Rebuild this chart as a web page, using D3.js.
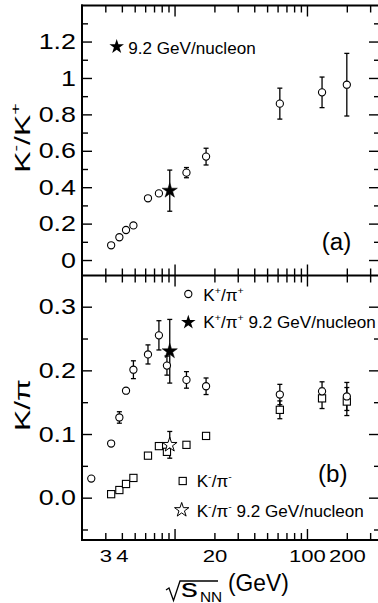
<!DOCTYPE html>
<html><head><meta charset="utf-8">
<script src="https://cdn.jsdelivr.net/npm/d3@7"></script>
<style>html,body{margin:0;padding:0;background:#fff;} svg{display:block;}</style>
</head><body><svg id="c" width="378" height="603"></svg>
<script>
// ---------- data ----------
// panel (a): K-/K+
const energyA = [3.32, 3.83, 4.3, 4.89, 6.3, 7.62, 12.3, 17.3, 62.4, 130, 200];
const kmkpVal = [0.081, 0.125, 0.165, 0.19, 0.339, 0.366, 0.48, 0.568, 0.859, 0.921, 0.963];
const kmkpErr = [0, 0, 0, 0, 0, 0, 0.028, 0.046, 0.085, 0.084, 0.172];
const starAEnergy = [9.2];
const starAVal = [0.381];
const starAErr = [0.113];
// panel (b): K+/pi+
const energyKpPi = [2.35, 3.32, 3.83, 4.3, 4.89, 6.3, 7.62, 8.76, 12.3, 17.3, 62.4, 130, 200];
const kpPiVal = [0.030, 0.085, 0.126, 0.168, 0.201, 0.225, 0.255, 0.2075, 0.185, 0.175, 0.162, 0.167, 0.159];
const kpPiErr = [0, 0, 0.009, 0, 0.014, 0.015, 0.023, 0.015, 0.013, 0.013, 0.016, 0.015, 0.022];
// panel (b): K-/pi-
const energyKmPi = [3.32, 3.83, 4.3, 4.89, 6.3, 7.62, 8.76, 12.3, 17.3, 62.4, 130, 200];
const kmPiVal = [0.0055, 0.012, 0.0215, 0.031, 0.066, 0.081, 0.072, 0.083, 0.097, 0.138, 0.156, 0.151];
const kmPiErr = [0, 0, 0, 0, 0, 0, 0, 0, 0, 0.014, 0.016, 0.022];
const starBEnergy = [9.2];
const starKpVal = [0.23];
const starKpErr = [0.05];
const starKmVal = [0.083];
const starKmErr = [0.021];
// ticks
const yTicksA = [0, 0.2, 0.4, 0.6, 0.8, 1, 1.2];
const yTickLabelsA = ["0", "0.2", "0.4", "0.6", "0.8", "1", "1.2"];
const yMinorA = [0.1, 0.3, 0.5, 0.7, 0.9, 1.1, 1.3];
const yTicksB = [0, 0.1, 0.2, 0.3];
const yTickLabelsB = ["0.0", "0.1", "0.2", "0.3"];
const yMinorB = [-0.05, 0.05, 0.15, 0.25];
const xMajor = [10, 100];
const xMinor = [3, 4, 5, 6, 7, 8, 9, 20, 30, 40, 50, 60, 70, 80, 90, 200, 300];
const xLabelVals = [3, 4, 20, 100, 200];
const xLabels = ["3", "4", "20", "100", "200"];

// ---------- layout ----------
const L = 82, R = 379, TOP = 5.5, MID = 275.5, BOT = 540;
const FONT = "'Liberation Sans', Arial, Helvetica, sans-serif";
const svg = d3.select("#c").attr("font-family", FONT);
svg.append("rect").attr("width", 378).attr("height", 603).attr("fill", "#fff");

const x = d3.scaleLog().domain([2, 350]).range([L, R]);
const yA = d3.scaleLinear().domain([-0.085, 1.398]).range([MID, TOP]);
const yB = d3.scaleLinear().domain([-0.0665, 0.349]).range([BOT, MID]);

function styleAxis(g) {
  g.select(".domain").remove();
  g.selectAll(".tick line").attr("stroke", "#000").attr("stroke-width", 1.4);
}
function ticksOnly(axis) { return axis.tickFormat(() => ""); }

// y axes
function yAxes(y, major, labels, minor) {
  svg.append("g").attr("transform", `translate(${L},0)`)
    .call(ticksOnly(d3.axisLeft(y).tickValues(minor).tickSize(-6))).call(styleAxis);
  svg.append("g").attr("transform", `translate(${L},0)`)
    .call(ticksOnly(d3.axisLeft(y).tickValues(major).tickSize(-10))).call(styleAxis);
  svg.append("g").attr("transform", `translate(${R},0)`)
    .call(ticksOnly(d3.axisRight(y).tickValues(minor).tickSize(-5))).call(styleAxis);
  svg.append("g").attr("transform", `translate(${R},0)`)
    .call(ticksOnly(d3.axisRight(y).tickValues(major).tickSize(-10))).call(styleAxis);
  const lab = svg.append("g").attr("transform", `translate(${L},0)`)
    .call(d3.axisLeft(y).tickValues(major).tickSize(0).tickPadding(0)
      .tickFormat((d, i) => labels[i]));
  lab.select(".domain").remove();
  lab.selectAll(".tick line").remove();
  const sx = 1.22;
  lab.selectAll("text").attr("font-size", 22).attr("font-family", FONT).attr("fill", "#000")
    .attr("x", -6 / sx).attr("transform", `scale(${sx},1)`);
}
yAxes(yA, yTicksA, yTickLabelsA, yMinorA);
yAxes(yB, yTicksB, yTickLabelsB, yMinorB);

// x axes (top of a, bottom of a, top of b, bottom of b)
function xTicks(yPos, dir) {
  const mk = dir > 0 ? d3.axisBottom : d3.axisTop;
  svg.append("g").attr("transform", `translate(0,${yPos})`)
    .call(ticksOnly(mk(x).tickValues(xMinor).tickSize(-7))).call(styleAxis);
  svg.append("g").attr("transform", `translate(0,${yPos})`)
    .call(ticksOnly(mk(x).tickValues(xMajor).tickSize(-11))).call(styleAxis);
}
xTicks(TOP, -1);   // ticks pointing down into panel a
xTicks(MID, 1);    // ticks pointing up into panel a
xTicks(MID, -1);   // ticks pointing down into panel b
xTicks(BOT, 1);    // ticks pointing up into panel b
const xl = svg.append("g").attr("transform", `translate(0,${BOT})`)
  .call(d3.axisBottom(x).tickValues(xLabelVals).tickSize(0).tickPadding(10)
    .tickFormat((d, i) => xLabels[i]));
xl.select(".domain").remove();
xl.selectAll(".tick line").remove();
xl.selectAll("text").attr("font-size", 17).attr("font-family", FONT).attr("fill", "#000")
  .attr("transform", "scale(1.3,1)");

// frames (right frame line lies just outside the visible area)
const frame = svg.append("g").attr("stroke", "#000").attr("stroke-width", 2).attr("fill", "none");
frame.append("line").attr("x1", L).attr("x2", L).attr("y1", TOP - 1).attr("y2", BOT + 1);
frame.append("line").attr("x1", R + 1.5).attr("x2", R + 1.5).attr("y1", TOP - 1).attr("y2", BOT + 1);
frame.append("line").attr("x1", L - 1).attr("x2", R + 2).attr("y1", TOP).attr("y2", TOP);
frame.append("line").attr("x1", L - 1).attr("x2", R + 2).attr("y1", MID).attr("y2", MID);
frame.append("line").attr("x1", L - 1).attr("x2", R + 2).attr("y1", BOT).attr("y2", BOT);

// ---------- marks ----------
function errBars(xs, vs, es, y) {
  const g = svg.append("g").attr("stroke", "#000").attr("stroke-width", 1.3);
  xs.forEach((e, i) => {
    if (!es[i]) return;
    const px = x(e), y1 = y(vs[i] - es[i]), y2 = y(vs[i] + es[i]);
    g.append("line").attr("x1", px).attr("x2", px).attr("y1", y1).attr("y2", y2);
    g.append("line").attr("x1", px - 2.5).attr("x2", px + 2.5).attr("y1", y1).attr("y2", y1);
    g.append("line").attr("x1", px - 2.5).attr("x2", px + 2.5).attr("y1", y2).attr("y2", y2);
  });
}
function circles(xs, vs, y) {
  svg.append("g").selectAll("circle").data(xs).join("circle")
    .attr("cx", d => x(d)).attr("cy", (d, i) => y(vs[i])).attr("r", 3.6)
    .attr("fill", "#fff").attr("stroke", "#000").attr("stroke-width", 1.1);
}
function squares(xs, vs, y) {
  svg.append("g").selectAll("rect").data(xs).join("rect")
    .attr("x", d => x(d) - 3.6).attr("y", (d, i) => y(vs[i]) - 3.6)
    .attr("width", 7.2).attr("height", 7.2)
    .attr("fill", "#fff").attr("stroke", "#000").attr("stroke-width", 1.1);
}
const starSym = size => d3.symbol().type(d3.symbolStar).size(size)();
function stars(xs, vs, y, filled) {
  svg.append("g").selectAll("path").data(xs).join("path")
    .attr("d", starSym(filled ? 72 : 66))
    .attr("transform", (d, i) => `translate(${x(d)},${y(vs[i])})`)
    .attr("fill", filled ? "#000" : "#fff").attr("stroke", "#000").attr("stroke-width", filled ? 0.5 : 1);
}

// panel a
errBars(energyA, kmkpVal, kmkpErr, yA);
errBars(starAEnergy, starAVal, starAErr, yA);
circles(energyA, kmkpVal, yA);
stars(starAEnergy, starAVal, yA, true);

// panel b
errBars(energyKmPi, kmPiVal, kmPiErr, yB);
errBars(energyKpPi, kpPiVal, kpPiErr, yB);
errBars(starBEnergy, starKmVal, starKmErr, yB);
errBars(starBEnergy, starKpVal, starKpErr, yB);
squares(energyKmPi, kmPiVal, yB);
circles(energyKpPi, kpPiVal, yB);
stars(starBEnergy, starKmVal, yB, false);
stars(starBEnergy, starKpVal, yB, true);

// ---------- text ----------
function rich(px, py, parts, fs, sx, anchor, rot) {
  const t = svg.append("text")
    .attr("transform", `translate(${px},${py})${rot ? ` rotate(${rot})` : ""} scale(${sx},1)`)
    .attr("font-size", fs).attr("text-anchor", anchor || "start").attr("fill", "#000");
  let shift = 0;
  parts.forEach(([s, kind]) => {
    const ts = t.append("tspan").text(s);
    if (kind === "sup") {
      ts.attr("font-size", fs * 0.62).attr("dy", -fs * 0.42 - shift); shift = -fs * 0.42;
    } else if (kind === "sub") {
      ts.attr("font-size", fs * 0.7).attr("dy", fs * 0.3 - shift); shift = fs * 0.3;
    } else if (shift) {
      ts.attr("dy", -shift); shift = 0;
    }
  });
  return t;
}
// axis titles
rich(29.5, 138, [["K"], ["-", "sup"], ["/K"], ["+", "sup"]], 22, 1.45, "middle", -90);
rich(30, 405, [["K/π"]], 22, 1.45, "middle", -90);

// x title: sqrt(s_NN) (GeV)
svg.append("path")
  .attr("d", `M166,590 L169,588 L173.5,600.5 L180,581 L218,581`)
  .attr("fill", "none").attr("stroke", "#000").attr("stroke-width", 1.3);
rich(181, 597, [["s"]], 25, 1.35, "start");
rich(200, 601.5, [["NN"]], 14, 1.1, "start");
rich(228, 591, [["(GeV)"]], 24, 0.95, "start");

// panel labels
rich(321.7, 250, [["(a)"]], 23, 1.05, "start");
rich(318, 481.7, [["(b)"]], 23, 1.05, "start");

// legends
const LFS = 16, LSX = 1.07;
svg.append("path").attr("d", starSym(66)).attr("transform", "translate(116.7,46.7)").attr("fill", "#000");
rich(128.3, 54, [["9.2 GeV/nucleon"]], LFS, LSX);

svg.append("circle").attr("cx", 188.3).attr("cy", 294).attr("r", 3.6)
  .attr("fill", "#fff").attr("stroke", "#000").attr("stroke-width", 1.1);
rich(203.3, 301, [["K"], ["+", "sup"], ["/π"], ["+", "sup"]], LFS, LSX);
svg.append("path").attr("d", starSym(66)).attr("transform", "translate(188.3,322.3)").attr("fill", "#000");
rich(203.3, 327.5, [["K"], ["+", "sup"], ["/π"], ["+", "sup"], [" 9.2 GeV/nucleon"]], LFS, LSX);

svg.append("rect").attr("x", 182.7 - 3.6).attr("y", 481 - 3.6).attr("width", 7.2).attr("height", 7.2)
  .attr("fill", "#fff").attr("stroke", "#000").attr("stroke-width", 1.1);
rich(196.7, 487, [["K"], ["-", "sup"], ["/π"], ["-", "sup"]], LFS, LSX);
svg.append("path").attr("d", starSym(64)).attr("transform", "translate(181.7,510)")
  .attr("fill", "#fff").attr("stroke", "#000").attr("stroke-width", 1);
rich(196.7, 516.5, [["K"], ["-", "sup"], ["/π"], ["-", "sup"], [" 9.2 GeV/nucleon"]], LFS, LSX);
</script>
</body></html>
